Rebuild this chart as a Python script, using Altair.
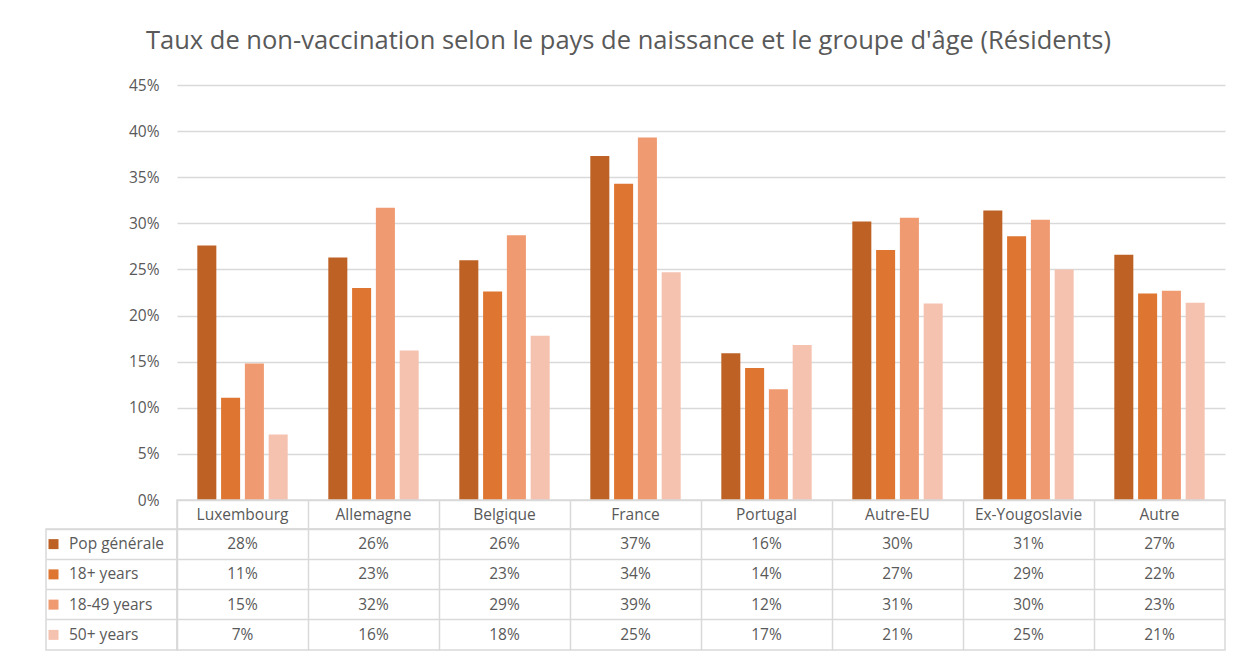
import altair as alt
import pandas as pd

FONT = "Open Sans"
TXT = "#595959"
GRID = "#D9D9D9"

countries = ["Luxembourg", "Allemagne", "Belgique", "France", "Portugal",
             "Autre-EU", "Ex-Yougoslavie", "Autre"]
series = ["Pop générale", "18+ years", "18-49 years", "50+ years"]
colors = ["#BD6224", "#DE7530", "#F09A71", "#F5C2B0"]

pop_generale = [27.6, 26.3, 26.0, 37.3, 15.9, 30.2, 31.4, 26.6]
years_18p = [11.1, 23.0, 22.6, 34.3, 14.3, 27.1, 28.6, 22.4]
years_18_49 = [14.8, 31.7, 28.7, 39.3, 12.0, 30.6, 30.4, 22.7]
years_50p = [7.1, 16.2, 17.8, 24.7, 16.8, 21.3, 25.0, 21.4]

y_ticks = [0.0, 0.05, 0.10, 0.15, 0.20, 0.25, 0.30, 0.35, 0.40, 0.45]
title_text = "Taux de non-vaccination selon le pays de naissance et le groupe d'âge (Résidents)"

rows = []
for s, vals in zip(series, [pop_generale, years_18p, years_18_49, years_50p]):
    for c, v in zip(countries, vals):
        rows.append({"country": c, "series": s, "value": v / 100})
df = pd.DataFrame(rows)

color_scale = alt.Scale(domain=series, range=colors)
PLOT_W = 1048
LEG_W = 131
FS = 15.5

bar = alt.Chart(df).mark_bar().encode(
    x=alt.X("country:N", sort=countries, axis=None,
            scale=alt.Scale(paddingInner=0.31, paddingOuter=0.155)),
    xOffset=alt.XOffset("series:N", sort=series,
                        scale=alt.Scale(paddingInner=0.2, paddingOuter=0)),
    y=alt.Y("value:Q", scale=alt.Scale(domain=[0, 0.45]),
            axis=alt.Axis(values=y_ticks, format=".0%", grid=True, gridColor=GRID,
                          gridWidth=1.5, domain=False, ticks=False, labelPadding=18,
                          labelFont=FONT, labelFontSize=FS, labelColor=TXT, title=None)),
    color=alt.Color("series:N", scale=color_scale, legend=None),
).properties(width=PLOT_W, height=415, view=alt.ViewBackground(stroke="transparent"))

band = alt.Scale(type="band", paddingInner=0, paddingOuter=0)
grid_axis = dict(grid=True, bandPosition=0, gridColor=GRID, gridWidth=1.5,
                 domain=False, ticks=False, labels=False, title=None)
cell_view = alt.ViewBackground(stroke=GRID, strokeWidth=1.5)

hdr_df = pd.DataFrame({"country": countries})
header = alt.Chart(hdr_df).mark_text(font=FONT, fontSize=FS, color=TXT).encode(
    x=alt.X("country:N", sort=countries, scale=band, axis=alt.Axis(**grid_axis)),
    text="country:N",
).properties(width=PLOT_W, height=29, view=cell_view)

table = alt.Chart(df).mark_text(font=FONT, fontSize=FS, color=TXT).encode(
    x=alt.X("country:N", sort=countries, scale=band, axis=alt.Axis(**grid_axis)),
    y=alt.Y("series:N", sort=series, scale=band, axis=alt.Axis(**grid_axis)),
    text=alt.Text("value:Q", format=".0%"),
).properties(width=PLOT_W, height=121, view=cell_view)

leg_df = pd.DataFrame({"series": series})
leg_base = alt.Chart(leg_df).encode(
    y=alt.Y("series:N", sort=series, scale=band, axis=alt.Axis(**grid_axis)),
)
leg_sq = leg_base.mark_square(size=100, opacity=1, xOffset=-7.5 - LEG_W / 2 + 15).encode(
    color=alt.Color("series:N", scale=color_scale, legend=None)
)
leg_txt = leg_base.mark_text(font=FONT, fontSize=FS, color=TXT, align="left",
                             dx=-LEG_W / 2 + 23).encode(text="series:N")
legend_col = alt.layer(leg_sq, leg_txt).properties(width=LEG_W, height=121, view=cell_view)

blank_df = pd.DataFrame({"a": [0]})
blank_top = alt.Chart(blank_df).mark_text().encode(text=alt.value("")).properties(
    width=LEG_W, height=415, view=alt.ViewBackground(stroke="transparent"))
blank_mid = alt.Chart(blank_df).mark_text().encode(text=alt.value("")).properties(
    width=LEG_W, height=29, view=alt.ViewBackground(stroke="transparent"))

chart = alt.concat(
    blank_top, bar, blank_mid, header, legend_col, table,
    columns=2, spacing=0, bounds="flush",
    title=alt.TitleParams(title_text, font=FONT, fontSize=25.5, color=TXT,
                          fontWeight="normal", anchor="middle", offset=23.5, dx=-7),
).properties(
    padding={"left": 37, "top": 20, "right": 10, "bottom": 5},
).configure(background="white")

chart.save("out.html", embed_options={"renderer": "svg", "actions": False})
